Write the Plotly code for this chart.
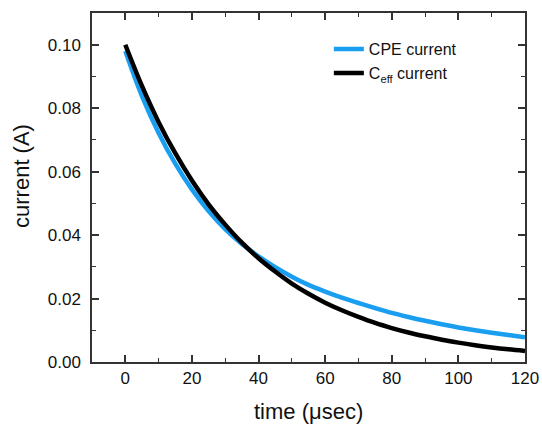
import plotly.graph_objects as go

time_us = [0, 5, 10, 15, 20, 25, 30, 35, 40, 45, 50, 55, 60, 65, 70, 75, 80,
           85, 90, 95, 100, 105, 110, 115, 120]
cpe_current = [0.0980, 0.0838, 0.0722, 0.0625, 0.0544, 0.0476, 0.0419, 0.0372,
               0.0333, 0.0299, 0.0269, 0.0243, 0.0222, 0.0203, 0.0186, 0.0170,
               0.0155, 0.0142, 0.0130, 0.0119, 0.0109, 0.0100, 0.0092, 0.0085,
               0.0078]
ceff_current = [0.1000, 0.0870, 0.0756, 0.0658, 0.0572, 0.0497, 0.0433, 0.0376,
                0.0327, 0.0285, 0.0247, 0.0215, 0.0187, 0.0163, 0.0142, 0.0123,
                0.0107, 0.0093, 0.0081, 0.0070, 0.0061, 0.0053, 0.0046, 0.0040,
                0.0035]
series_names = ["CPE current", "C<sub>eff</sub> current"]
x_title = "time (μsec)"
y_title = "current (A)"

FONT = "Liberation Sans, Arial, sans-serif"
AXIS_COLOR = "#333333"

fig = go.Figure()
fig.add_trace(go.Scatter(x=time_us, y=cpe_current, mode="lines", name=series_names[0],
                         line=dict(color="#1A9EF0", width=4.5, shape="spline")))
fig.add_trace(go.Scatter(x=time_us, y=ceff_current, mode="lines", name=series_names[1],
                         line=dict(color="#000000", width=4.5, shape="spline")))

axis_common = dict(
    showline=True, linecolor=AXIS_COLOR, linewidth=1.5, mirror="ticks",
    ticks="inside", ticklen=7, tickwidth=1.5, tickcolor=AXIS_COLOR,
    showgrid=False, zeroline=False, automargin=False,
    tickfont=dict(family=FONT, size=17, color="#111111"),
)

fig.update_layout(
    width=542, height=424,
    margin=dict(l=92, r=17, t=13, b=62),
    paper_bgcolor="white", plot_bgcolor="white",
    font=dict(family=FONT, color="#111111"),
    showlegend=True,
    legend=dict(x=0.547, y=0.945, xanchor="left", yanchor="top",
                bgcolor="rgba(0,0,0,0)", font=dict(family=FONT, size=16),
                tracegroupgap=0),
    xaxis=dict(range=[-10, 120], dtick=20, tick0=0,
               minor=dict(dtick=10, ticks="inside", ticklen=4, tickcolor=AXIS_COLOR,
                          tickwidth=1.2, showgrid=False),
               **axis_common),
    yaxis=dict(range=[0, 0.11], dtick=0.02, tick0=0, tickformat=".2f",
               minor=dict(dtick=0.01, ticks="inside", ticklen=4, tickcolor=AXIS_COLOR,
                          tickwidth=1.2, showgrid=False),
               ticklabelstandoff=6,
               **axis_common),
    annotations=[
        dict(text=x_title, xref="paper", yref="paper", x=0.5, y=0,
             xanchor="center", yanchor="middle", yshift=-49, showarrow=False,
             font=dict(family=FONT, size=22, color="#111111")),
        dict(text=y_title, xref="paper", yref="paper", x=0, y=0.533,
             xanchor="center", yanchor="middle", xshift=-70, textangle=-90,
             showarrow=False, font=dict(family=FONT, size=22, color="#111111")),
    ],
)

fig.write_html(
    "out.html",
    config={"displayModeBar": False},
    post_script="document.body.style.margin='0';document.body.style.overflow='hidden';",
)
